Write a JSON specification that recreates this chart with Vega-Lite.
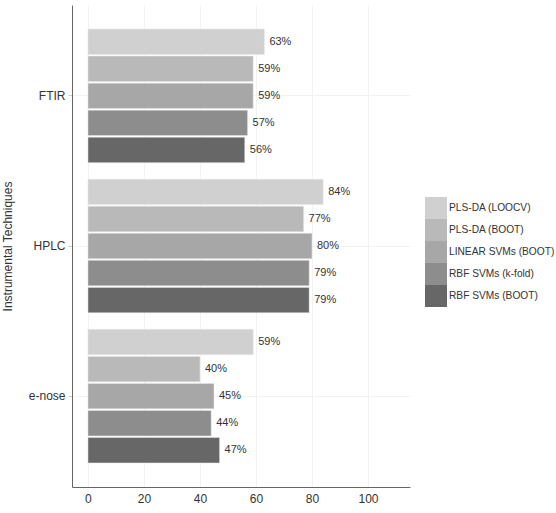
{
  "$schema": "https://vega.github.io/schema/vega-lite/v6.json",
  "width": 338,
  "height": 482,
  "padding": {"left": 1, "top": 5, "right": 0, "bottom": 0},
  "background": "white",
  "config": {
    "font": "Liberation Sans",
    "view": {"stroke": null},
    "axis": {"labelFont": "Liberation Sans", "titleFont": "Liberation Sans"}
  },
  "data": {
    "values": [
      {"technique": "FTIR", "method": "PLS-DA (LOOCV)", "value": 63, "label": "63%"},
      {"technique": "FTIR", "method": "PLS-DA (BOOT)", "value": 59, "label": "59%"},
      {"technique": "FTIR", "method": "LINEAR SVMs (BOOT)", "value": 59, "label": "59%"},
      {"technique": "FTIR", "method": "RBF SVMs (k-fold)", "value": 57, "label": "57%"},
      {"technique": "FTIR", "method": "RBF SVMs (BOOT)", "value": 56, "label": "56%"},
      {"technique": "HPLC", "method": "PLS-DA (LOOCV)", "value": 84, "label": "84%"},
      {"technique": "HPLC", "method": "PLS-DA (BOOT)", "value": 77, "label": "77%"},
      {"technique": "HPLC", "method": "LINEAR SVMs (BOOT)", "value": 80, "label": "80%"},
      {"technique": "HPLC", "method": "RBF SVMs (k-fold)", "value": 79, "label": "79%"},
      {"technique": "HPLC", "method": "RBF SVMs (BOOT)", "value": 79, "label": "79%"},
      {"technique": "e-nose", "method": "PLS-DA (LOOCV)", "value": 59, "label": "59%"},
      {"technique": "e-nose", "method": "PLS-DA (BOOT)", "value": 40, "label": "40%"},
      {"technique": "e-nose", "method": "LINEAR SVMs (BOOT)", "value": 45, "label": "45%"},
      {"technique": "e-nose", "method": "RBF SVMs (k-fold)", "value": 44, "label": "44%"},
      {"technique": "e-nose", "method": "RBF SVMs (BOOT)", "value": 47, "label": "47%"}
    ]
  },
  "encoding": {
    "y": {
      "field": "technique", "type": "nominal",
      "sort": ["FTIR", "HPLC", "e-nose"],
      "scale": {"paddingInner": 0.11, "paddingOuter": 0.16},
      "axis": {
        "title": "Instrumental Techniques", "titleFontSize": 12, "titleFontWeight": "normal", "titleColor": "#333",
        "labelFontSize": 12, "labelColor": "#333", "labelPadding": 3,
        "domainColor": "#666", "tickColor": "#ccc", "tickSize": 4,
        "grid": true, "gridColor": "#f2f2f2", "titlePadding": 14
      }
    },
    "yOffset": {
      "field": "method", "type": "nominal",
      "sort": ["PLS-DA (LOOCV)", "PLS-DA (BOOT)", "LINEAR SVMs (BOOT)", "RBF SVMs (k-fold)", "RBF SVMs (BOOT)"],
      "scale": {"paddingInner": 0.06}
    },
    "x": {
      "field": "value", "type": "quantitative",
      "scale": {"domain": [-5.7, 115], "nice": false},
      "axis": {
        "title": null, "values": [0, 20, 40, 60, 80, 100],
        "labelFontSize": 12, "labelColor": "#333", "labelPadding": 6,
        "domainColor": "#666", "ticks": false,
        "grid": true, "gridColor": "#f2f2f2"
      }
    }
  },
  "layer": [
    {
      "mark": {"type": "bar", "stroke": "#e8e8e8", "strokeWidth": 0.5},
      "encoding": {
        "color": {
          "field": "method", "type": "nominal",
          "sort": ["PLS-DA (LOOCV)", "PLS-DA (BOOT)", "LINEAR SVMs (BOOT)", "RBF SVMs (k-fold)", "RBF SVMs (BOOT)"],
          "scale": {
            "domain": ["PLS-DA (LOOCV)", "PLS-DA (BOOT)", "LINEAR SVMs (BOOT)", "RBF SVMs (k-fold)", "RBF SVMs (BOOT)"],
            "range": ["#d0d0d0", "#b9b9b9", "#a7a7a7", "#8d8d8d", "#676767"]
          },
          "legend": {
            "title": null, "orient": "none", "legendX": 353, "legendY": 192,
            "symbolType": "square", "symbolSize": 484, "symbolStrokeWidth": 0,
            "rowPadding": 0, "labelFontSize": 10.2, "labelColor": "#333", "labelOffset": 2, "labelLimit": 200
          }
        }
      }
    },
    {
      "mark": {"type": "text", "align": "left", "baseline": "middle", "dx": 5, "fontSize": 11, "color": "#333"},
      "encoding": {"text": {"field": "label"}}
    }
  ]
}
